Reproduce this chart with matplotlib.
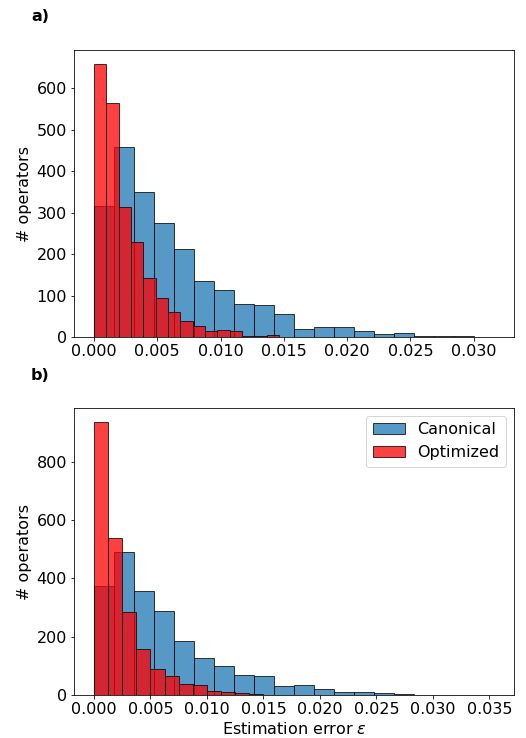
import numpy as np
import matplotlib
matplotlib.use("Agg")
import matplotlib.pyplot as plt

# Panel a) counts
canon_a_counts = [316, 457, 350, 276, 212, 135, 114, 80, 78, 56, 20, 25, 25, 14, 8, 10, 3, 3, 3, 1]
canon_a_max = 0.0316
optim_a_counts = [659, 565, 314, 229, 143, 93, 60, 39, 27, 15, 18, 14, 3, 2, 6, 1, 1]
optim_a_max = 0.01655

# Panel b) counts
canon_b_counts = [375, 489, 358, 288, 185, 128, 100, 70, 66, 30, 33, 22, 10, 9, 6, 2, 1, 1, 1, 1]
canon_b_max = 0.0354
optim_b_counts = [937, 539, 286, 157, 88, 66, 37, 35, 14, 9, 6, 5]
optim_b_max = 0.0150

panel_labels = ["a)", "b)"]
series_names = ["Canonical", "Optimized"]
xticks_a = [0.000, 0.005, 0.010, 0.015, 0.020, 0.025, 0.030]
xticks_b = [0.000, 0.005, 0.010, 0.015, 0.020, 0.025, 0.030, 0.035]

FS = 16
DPI = 72
plt.rcParams['font.family'] = ['DejaVu Sans']

fig = plt.figure(figsize=(526/DPI, 738/DPI), dpi=DPI)
ax_a = fig.add_axes([74/526, 1-337/738, 440/526, 287/738])
ax_b = fig.add_axes([74/526, 1-695/738, 440/526, 287/738])


def draw_hist(ax, counts, vmax, color, label):
    edges = np.linspace(0, vmax, len(counts) + 1)
    ax.bar(edges[:-1], counts, width=np.diff(edges), align='edge',
           color=color, alpha=0.75, edgecolor='black', linewidth=1.0, label=label)


for ax, cc, cm, oc, om, ticks, lab, ly in [
        (ax_a, canon_a_counts, canon_a_max, optim_a_counts, optim_a_max, xticks_a, panel_labels[0], 1.101),
        (ax_b, canon_b_counts, canon_b_max, optim_b_counts, optim_b_max, xticks_b, panel_labels[1], 1.098)]:
    draw_hist(ax, cc, cm, '#1f77b4', series_names[0])
    draw_hist(ax, oc, om, 'red', series_names[1])
    ax.set_xticks(ticks)
    ax.set_xticklabels([f"{t:.3f}" for t in ticks])
    ax.tick_params(labelsize=FS)
    ax.set_ylabel("# operators", fontsize=FS)
    ax.text(-0.098, ly, lab, transform=ax.transAxes, fontsize=FS, fontweight='bold',
            ha='left', va='baseline')

ax_a.set_yticks([0, 100, 200, 300, 400, 500, 600])
ax_b.set_yticks([0, 200, 400, 600, 800])
ax_b.set_xlabel(r"Estimation error $\epsilon$", fontsize=FS)
ax_b.legend(loc='upper right', fontsize=FS)

fig.savefig("out.png", dpi=DPI)
